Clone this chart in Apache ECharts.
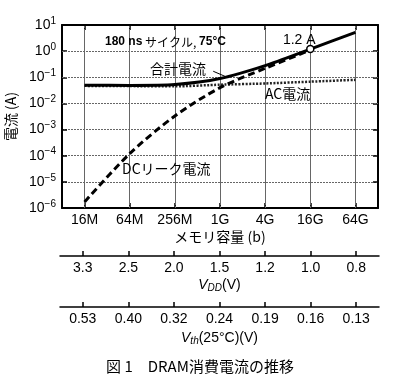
<!DOCTYPE html>
<html>
<head>
<meta charset="utf-8">
<script src="https://cdn.jsdelivr.net/npm/echarts@6/dist/echarts.min.js"></script>
<style>
html,body{margin:0;padding:0;background:#fff;}
#c{width:400px;height:381px;}
</style>
</head>
<body>
<div id="c"></div>
<script>
const memory = ['16M', '64M', '256M', '1G', '4G', '16G', '64G'];
const totalCurrent = [0.05, 0.049, 0.053, 0.09, 0.28, 1.2, 5.2];
const acCurrent = [0.047, 0.046, 0.045, 0.052, 0.058, 0.068, 0.08];
const dcCurrent = [1.7e-6, 1.2e-4, 3.3e-3, 0.04, 0.22, 1.1];
const vddLabels = ['3.3', '2.5', '2.0', '1.5', '1.2', '1.0', '0.8'];
const vthLabels = ['0.53', '0.40', '0.32', '0.24', '0.19', '0.16', '0.13'];
const yDecades = [1e-5, 1e-4, 1e-3, 1e-2, 1e-1, 1];
const peakPoint = [5, 1.2];
const peakLabel = '1.2 A';
const leader = [[2.85, 0.17], [3.16, 0.1]];

const FONT = '"Noto Sans CJK JP", "Liberation Sans", sans-serif';
const LFONT = '"Liberation Sans", "Noto Sans CJK JP", sans-serif';

const chart = echarts.init(document.getElementById('c'));

function pts(arr) { return arr.map((v, i) => [i, v]); }

const gridL = 62, gridR = 22;
const gridLineStyle = {color: '#666', type: [2, 1], width: 1};
const gridLine = {show: true, lineStyle: gridLineStyle};
const tick = {show: true, inside: true, length: 5, lineStyle: {color: '#000', width: 1.5}};
const axLine = {show: true, onZero: false, lineStyle: {color: '#000', width: 2}};
const subRich = {
  i: {fontStyle: 'italic', fontSize: 14, fontFamily: LFONT, color: '#000'},
  s: {fontStyle: 'italic', fontSize: 10, fontFamily: LFONT, color: '#000', padding: [6, 0, 0, 0]},
  n: {fontSize: 14, fontFamily: LFONT, color: '#000'}
};

function textTitle(text, left, top, size, rich) {
  return {
    text: text, left: left, top: top, padding: 0,
    textStyle: {fontSize: size, fontWeight: 'normal', fontFamily: FONT, color: '#000', rich: rich}
  };
}

const gridMarks = [
  ...memory.map((m, i) => ({xAxis: i})),
  ...yDecades.map(v => ({yAxis: v}))
];

const option = {
  animation: false,
  backgroundColor: '#fff',
  title: [
    textTitle('{b|180 ns} {n|サイクル,} {b|75°C}', 105, 36, 12, {
      b: {fontSize: 12, fontWeight: 'bold', fontFamily: LFONT, color: '#000'},
      n: {fontSize: 12, fontFamily: FONT, color: '#000'}
    }),
    textTitle('合計電流', 150, 62, 14),
    textTitle('AC電流', 265, 87, 14),
    textTitle('DCリーク電流', 122, 162, 14),
    textTitle('図 1\u3000DRAM消費電流の推移', 'center', 359, 15)
  ],
  grid: [
    {left: gridL, right: gridR, top: 25, height: 183, outerBoundsMode: 'none'},
    {left: gridL - 2, right: gridR - 1, top: 255, height: 1, outerBoundsMode: 'none'},
    {left: gridL - 2, right: gridR - 1, top: 306, height: 1, outerBoundsMode: 'none'}
  ],
  xAxis: [
    {
      type: 'value', gridIndex: 0, min: -0.5, max: 6.5, splitNumber: 7,
      axisLine: axLine, axisTick: tick,
      axisLabel: {
        show: true, color: '#000', fontFamily: LFONT, fontSize: 14, margin: 5,
        showMinLabel: false, showMaxLabel: false,
        formatter: v => Number.isInteger(v) ? memory[v] : ''
      },
      splitLine: gridLine,
      name: 'メモリ容量 (b)', nameLocation: 'middle', nameGap: 22,
      nameTextStyle: {color: '#000', fontSize: 14, fontFamily: FONT}
    },
    {
      type: 'value', gridIndex: 0, position: 'top', min: -0.5, max: 6.5, splitNumber: 7,
      axisLine: axLine, axisTick: tick,
      axisLabel: {show: false}, splitLine: {show: false}
    },
    {
      type: 'category', gridIndex: 1, data: vddLabels, boundaryGap: true, position: 'bottom',
      axisLine: {show: true, lineStyle: {color: '#000', width: 1.5}},
      axisTick: {show: true, inside: true, alignWithLabel: true, length: 5, lineStyle: {color: '#000', width: 1.5}},
      axisLabel: {show: true, color: '#000', fontFamily: LFONT, fontSize: 14, margin: 5},
      splitLine: {show: false},
      name: '{i|V}{s|DD}{n|(V)}', nameLocation: 'middle', nameGap: 21,
      nameTextStyle: {color: '#000', fontSize: 14, rich: subRich}
    },
    {
      type: 'category', gridIndex: 2, data: vthLabels, boundaryGap: true, position: 'bottom',
      axisLine: {show: true, lineStyle: {color: '#000', width: 1.5}},
      axisTick: {show: true, inside: true, alignWithLabel: true, length: 5, lineStyle: {color: '#000', width: 1.5}},
      axisLabel: {show: true, color: '#000', fontFamily: LFONT, fontSize: 14, margin: 5},
      splitLine: {show: false},
      name: '{i|V}{s|th}{n|(25°C)(V)}', nameLocation: 'middle', nameGap: 23,
      nameTextStyle: {color: '#000', fontSize: 14, rich: subRich}
    }
  ],
  yAxis: [
    {
      type: 'log', gridIndex: 0, logBase: 10, min: 1e-6, max: 10, splitNumber: 7,
      axisLine: axLine, axisTick: tick,
      minorTick: {show: false}, minorSplitLine: {show: false},
      axisLabel: {
        show: true, color: '#000', fontFamily: LFONT, fontSize: 14, margin: 6,
        formatter: v => {
          const e = Math.round(Math.log10(v));
          return '{b|10}{sup|' + (e < 0 ? '\u2212' + (-e) : e) + '}';
        },
        rich: {
          b: {fontSize: 14, fontFamily: LFONT, color: '#000'},
          sup: {fontSize: 10, fontFamily: LFONT, color: '#000', padding: [0, 0, 8, 0]}
        }
      },
      splitLine: gridLine,
      name: '電流 (A)', nameLocation: 'middle', nameGap: 42, nameRotate: 90,
      nameTextStyle: {color: '#000', fontSize: 14, fontFamily: FONT}
    },
    {
      type: 'log', gridIndex: 0, logBase: 10, min: 1e-6, max: 10, splitNumber: 7, position: 'right',
      axisLine: axLine, axisTick: tick,
      axisLabel: {show: false}, splitLine: {show: false}
    },
    {type: 'value', gridIndex: 1, show: false},
    {type: 'value', gridIndex: 2, show: false}
  ],
  series: [
    {
      type: 'line', xAxisIndex: 0, yAxisIndex: 0, data: pts(acCurrent),
      showSymbol: false, smooth: 0.2,
      lineStyle: {color: '#222', width: 2.5, type: [2, 1.5]}, z: 2,
      markLine: {
        silent: true, symbol: ['none', 'none'], label: {show: false},
        lineStyle: gridLineStyle, data: gridMarks, z: 1
      }
    },
    {
      type: 'line', xAxisIndex: 0, yAxisIndex: 0, data: pts(dcCurrent),
      showSymbol: false, smooth: 0.3,
      lineStyle: {color: '#000', width: 3, type: [7, 4]}, z: 3
    },
    {
      type: 'line', xAxisIndex: 0, yAxisIndex: 0, data: pts(totalCurrent),
      showSymbol: false, smooth: 0.25,
      lineStyle: {color: '#000', width: 3}, z: 4,
      markLine: {
        silent: true, symbol: ['none', 'none'], label: {show: false},
        lineStyle: {color: '#000', width: 1, type: 'solid'},
        data: [[{coord: leader[0]}, {coord: leader[1]}]]
      }
    },
    {
      type: 'scatter', xAxisIndex: 0, yAxisIndex: 0, data: [peakPoint],
      symbol: 'circle', symbolSize: 7, z: 5,
      itemStyle: {color: '#fff', borderColor: '#000', borderWidth: 1.5, opacity: 1},
      label: {
        show: true, position: 'top', distance: 0, offset: [-11, 2],
        formatter: peakLabel, color: '#000', fontSize: 14, fontFamily: LFONT
      }
    }
  ]
};
chart.setOption(option);
</script>
</body>
</html>
